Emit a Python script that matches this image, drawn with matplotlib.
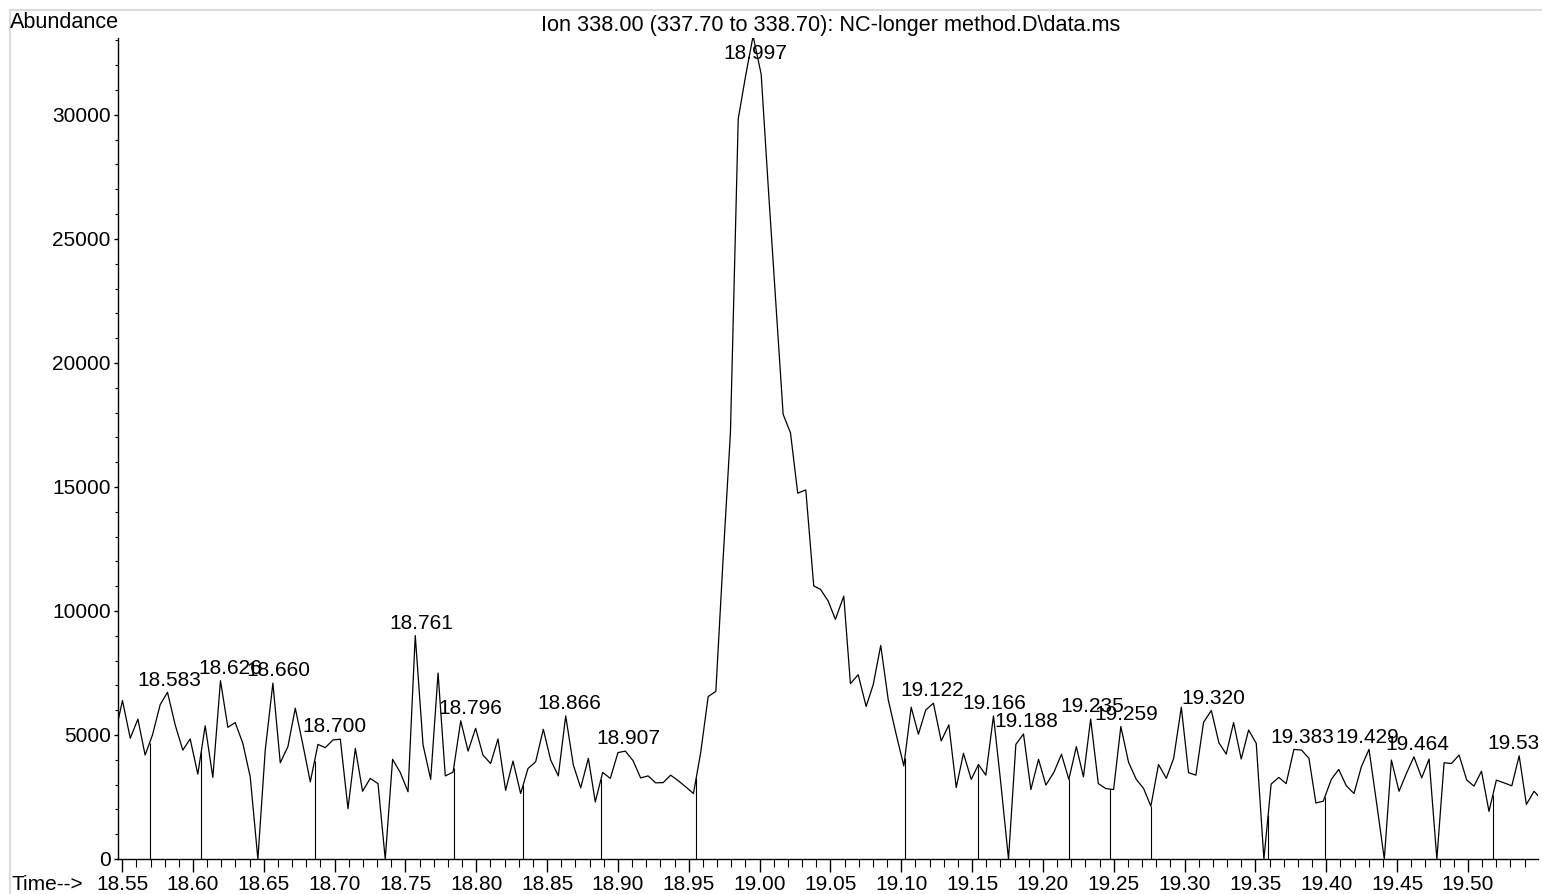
# plot.py
# ion chromatogram, ion 338 window, redrawn from a ChemStation printout
import numpy as np
import matplotlib
matplotlib.use("Agg")
from matplotlib import pyplot as plt
from matplotlib.ticker import MultipleLocator, FormatStrFormatter

TITLE = "Ion 338.00 (337.70 to 338.70): NC-longer method.D\\data.ms"

# retention time (min) of each scan
times = [
    18.5470, 18.5502, 18.5557, 18.5611, 18.5662, 18.5714, 18.5768, 18.5820, 18.5874, 18.5928,
    18.5980, 18.6034, 18.6086, 18.6140, 18.6194, 18.6246, 18.6298, 18.6352, 18.6404, 18.6458,
    18.6510, 18.6564, 18.6616, 18.6670, 18.6722, 18.6776, 18.6828, 18.6882, 18.6934, 18.6988,
    18.7040, 18.7094, 18.7146, 18.7197, 18.7251, 18.7306, 18.7357, 18.7409, 18.7463, 18.7518,
    18.7569, 18.7624, 18.7678, 18.7730, 18.7781, 18.7836, 18.7890, 18.7942, 18.7995, 18.8047,
    18.8101, 18.8153, 18.8207, 18.8259, 18.8313, 18.8365, 18.8419, 18.8473, 18.8525, 18.8579,
    18.8631, 18.8685, 18.8737, 18.8791, 18.8840, 18.8892, 18.8946, 18.9000, 18.9052, 18.9107,
    18.9160, 18.9213, 18.9266, 18.9319, 18.9372, 18.9427, 18.9478, 18.9533, 18.9584, 18.9637,
    18.9691, 18.9741, 18.9794, 18.9849, 18.9901, 18.9954, 19.0011, 19.0062, 19.0112, 19.0166,
    19.0218, 19.0269, 19.0326, 19.0382, 19.0430, 19.0484, 19.0535, 19.0594, 19.0641, 19.0696,
    19.0752, 19.0802, 19.0855, 19.0908, 19.0961, 19.1018, 19.1070, 19.1121, 19.1173, 19.1227,
    19.1282, 19.1336, 19.1388, 19.1439, 19.1494, 19.1545, 19.1597, 19.1651, 19.1703, 19.1757,
    19.1809, 19.1863, 19.1915, 19.1969, 19.2021, 19.2077, 19.2131, 19.2183, 19.2236, 19.2286,
    19.2337, 19.2391, 19.2444, 19.2499, 19.2550, 19.2605, 19.2659, 19.2711, 19.2762, 19.2816,
    19.2871, 19.2923, 19.2977, 19.3028, 19.3080, 19.3134, 19.3189, 19.3242, 19.3294, 19.3346,
    19.3400, 19.3452, 19.3506, 19.3560, 19.3611, 19.3665, 19.3717, 19.3772, 19.3826, 19.3878,
    19.3927, 19.3979, 19.4036, 19.4088, 19.4142, 19.4196, 19.4248, 19.4302, 19.4357, 19.4410,
    19.4460, 19.4514, 19.4566, 19.4619, 19.4674, 19.4726, 19.4781, 19.4832, 19.4884, 19.4938,
    19.4992, 19.5043, 19.5096, 19.5149, 19.5201, 19.5255, 19.5310, 19.5362, 19.5413, 19.5467,
    19.5520,
]

# abundance of each scan
abundance = [
    5540, 6390, 4870, 5640, 4190, 5000, 6220, 6720, 5410, 4390,
    4840, 3420, 5370, 3290, 7190, 5310, 5500, 4660, 3310, 0,
    4390, 7090, 3880, 4530, 6080, 4600, 3110, 4620, 4490, 4800,
    4830, 2030, 4460, 2730, 3250, 3040, 0, 4020, 3490, 2710,
    9010, 4600, 3210, 7500, 3350, 3500, 5570, 4350, 5270, 4190,
    3850, 4840, 2770, 3950, 2640, 3650, 3920, 5230, 3990, 3350,
    5770, 3790, 2870, 4060, 2300, 3490, 3250, 4290, 4350, 3960,
    3270, 3350, 3070, 3080, 3380, 3150, 2910, 2640, 4290, 6550,
    6760, 11970, 17190, 29840, 31570, 33180, 31640, 27000, 22620, 17930,
    17180, 14750, 14880, 11010, 10870, 10400, 9660, 10600, 7070, 7430,
    6150, 7030, 8610, 6420, 5100, 3750, 6120, 5030, 6010, 6280,
    4760, 5410, 2880, 4260, 3210, 3810, 3380, 5770, 3040, 0,
    4620, 5040, 2800, 4020, 2980, 3490, 4220, 3210, 4530, 3310,
    5640, 3040, 2840, 2800, 5340, 3890, 3210, 2840, 2130, 3810,
    3250, 4060, 6120, 3480, 3380, 5510, 5990, 4690, 4230, 5500,
    4030, 5200, 4660, 0, 3020, 3290, 3040, 4420, 4390, 4060,
    2260, 2330, 3210, 3610, 2950, 2640, 3720, 4420, 2200, 0,
    3990, 2730, 3450, 4120, 3270, 4030, 0, 3880, 3850, 4190,
    3180, 2940, 3540, 1920, 3180, 3070, 2950, 4160, 2200, 2730,
    2400,
]

# apex labels printed by the integrator
peak_labels = ["18.583", "18.626", "18.660", "18.700", "18.761", "18.796", "18.866",
               "18.907", "18.997", "19.122", "19.166", "19.188", "19.235", "19.259",
               "19.320", "19.383", "19.429", "19.464", "19.536"]

# integration baseline drops (min)
drop_times = [18.5693, 18.6058, 18.6858, 18.7840, 18.8330, 18.8880, 18.9552,
              19.1025, 19.1540, 19.2183, 19.2475, 19.2762, 19.3590, 19.3989, 19.5177]

XMIN, XMAX = 18.5467, 19.5495
YMAX = 33100
FS = 15
FS_HEAD = 15.6

plt.rcParams['font.family'] = ['Liberation Sans', 'DejaVu Sans']

fig = plt.figure(figsize=(15.42, 8.94), dpi=100)
ax = fig.add_axes([117.5 / 1542, 1 - 859 / 894, (1538 - 117.5) / 1542, (859 - 38) / 894])

t = np.array(times)
a = np.array(abundance)

# trace
ax.plot(t, a, color='black', lw=0.9)

# drop lines down to zero
drop_h = np.interp(drop_times, t, a)
ax.vlines(drop_times, 0, drop_h, color='black', lw=0.8)

# peak labels, centred on the printed time, sitting on the local apex
for lab in peak_labels:
    tl = float(lab)
    near = (t > tl - 0.008) & (t < tl + 0.008)
    top = a[near].max()
    if top > 0.9 * YMAX:
        # biggest peak: label tucked under the top of the frame
        ax.annotate(lab, (tl, YMAX), xytext=(0, -4), textcoords='offset points',
                    ha='center', va='top', fontsize=FS, annotation_clip=False)
    else:
        ax.annotate(lab, (tl, top), xytext=(0, 2), textcoords='offset points',
                    ha='center', va='bottom', fontsize=FS, clip_on=True)

ax.set_xlim(XMIN, XMAX)
ax.set_ylim(0, YMAX)

ax.spines['top'].set_visible(False)
ax.spines['right'].set_visible(False)
for s in ('left', 'bottom'):
    ax.spines[s].set_linewidth(1.0)

ax.xaxis.set_major_locator(MultipleLocator(0.05))
ax.xaxis.set_minor_locator(MultipleLocator(0.01))
ax.xaxis.set_major_formatter(FormatStrFormatter('%.2f'))
ax.yaxis.set_major_locator(MultipleLocator(5000))
ax.yaxis.set_minor_locator(MultipleLocator(1000))
ax.yaxis.set_major_formatter(FormatStrFormatter('%d'))

ax.tick_params(axis='x', which='major', length=9.5, width=1, pad=2, labelsize=FS)
ax.tick_params(axis='x', which='minor', length=5.5, width=0.8)
ax.tick_params(axis='y', which='major', length=3, width=1, pad=2, labelsize=FS)
ax.tick_params(axis='y', which='minor', length=2, width=0.8)

# headings around the plot
fig.text(10 / 1542, 1 - 22.5 / 894, "Abundance", fontsize=FS_HEAD, ha='left', va='center')
fig.text(831 / 1542, 1 - 25 / 894, TITLE, fontsize=FS_HEAD, ha='center', va='center')
fig.text(11 / 1542, 1 - 884 / 894, "Time-->", fontsize=FS, ha='left', va='center')

# light frame of the printout
fig.add_artist(plt.Line2D([9.5 / 1542, 1], [1 - 9.5 / 894] * 2, color='#dcdcdc', lw=1.5))
fig.add_artist(plt.Line2D([9.5 / 1542] * 2, [0, 1 - 9.5 / 894], color='#dcdcdc', lw=1.5))

fig.savefig("out.png", dpi=100)
